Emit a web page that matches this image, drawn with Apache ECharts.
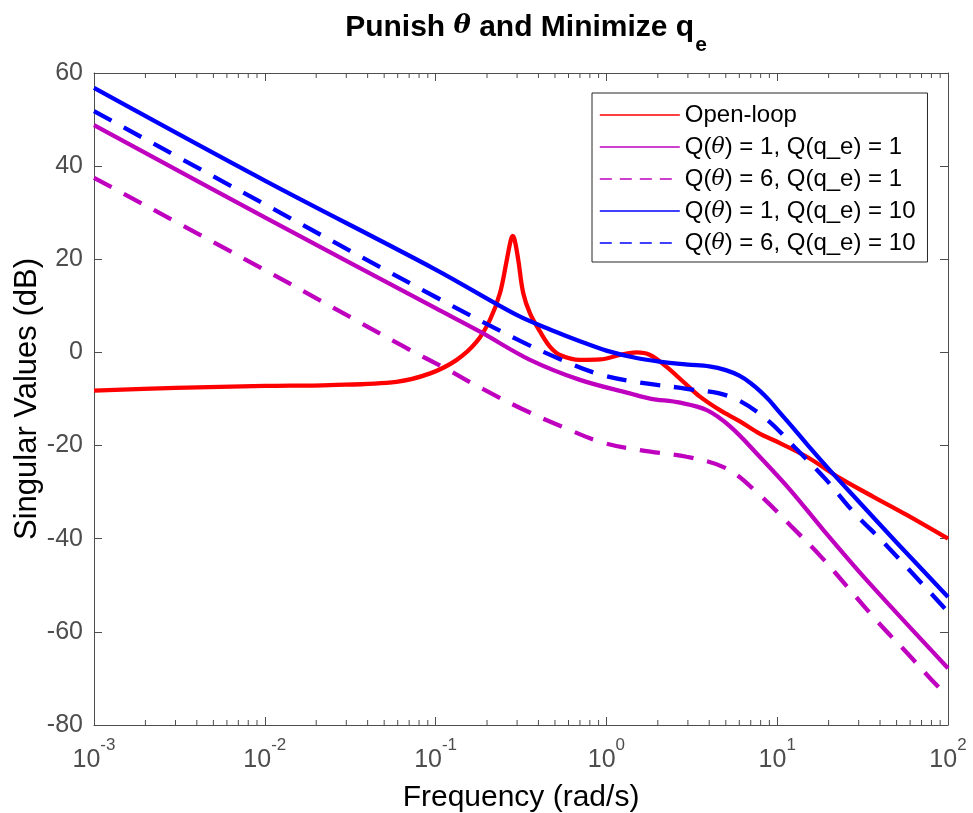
<!DOCTYPE html>
<html>
<head>
<meta charset="utf-8">
<script src="https://cdn.jsdelivr.net/npm/echarts@6/dist/echarts.min.js"></script>
<style>
html,body{margin:0;padding:0;background:#fff;}
#chart{width:973px;height:813px;}
</style>
</head>
<body>
<div id="chart"></div>
<script>
// ---- Data ----
const seriesNames = [
  'Open-loop',
  'Q(θ) = 1, Q(q_e) = 1',
  'Q(θ) = 6, Q(q_e) = 1',
  'Q(θ) = 1, Q(q_e) = 10',
  'Q(θ) = 6, Q(q_e) = 10'
];

const openLoopFreq = [0.001, 0.003, 0.01, 0.024, 0.059, 0.093, 0.133, 0.174, 0.208, 0.238, 0.261, 0.275, 0.283, 0.291, 0.305, 0.326, 0.357, 0.409, 0.468, 0.535, 0.70, 0.92, 1.2, 1.5, 1.8, 2.25, 2.82, 3.53, 4.62, 6.05, 7.94, 9.5, 14.9, 23.3, 36.6, 57.3, 100];
const openLoopDb   = [-8.2, -7.6, -7.2, -7.0, -6.3, -4.5, -1.6, 2.3, 7.0, 12.7, 19.8, 24.0, 25.0, 24.0, 19.8, 12.7, 8.4, 4.45, 1.2, -0.55, -1.6, -1.5, -0.55, 0.0, -0.55, -3.1, -6.3, -9.5, -12.4, -14.8, -17.5, -18.8, -22.4, -27.0, -31.0, -34.9, -40.0];

const q1q1Freq = [0.001, 0.01, 0.1, 0.182, 0.357, 0.70, 1.37, 1.8, 2.7, 3.87, 5.3, 7.9, 11.9, 18.6, 33.4, 100];
const q1q1Db   = [48.8, 29.0, 9.5, 4.45, -1.6, -5.9, -8.8, -9.9, -10.8, -12.4, -15.9, -22.4, -29.5, -38.1, -48.9, -67.8];

const q6q1Freq = [0.001, 0.01, 0.0678, 0.1135, 0.19, 0.319, 0.547, 0.94, 1.64, 2.95, 5.1, 8.0, 12.0, 18.2, 26.7, 39.1, 57.8, 87.7, 100];
const q6q1Db   = [37.5, 17.7, 0.9, -3.4, -7.9, -12.1, -15.9, -19.3, -21.1, -22.4, -25.0, -30.8, -37.2, -44.0, -51.0, -58.0, -64.6, -71.8, -73.5];

const q1q10Freq = [0.001, 0.01, 0.1, 0.3, 0.5, 0.7, 1, 1.5, 2, 3, 4, 5, 6, 7, 8, 9, 10, 12, 15, 20, 30, 50, 100];
const q1q10Db   = [56.8, 36.9, 17.8, 8.0, 4.5, 2.4, 0.4, -1.2, -1.9, -2.6, -3.0, -3.8, -5.0, -6.6, -8.4, -10.3, -12.3, -15.6, -19.8, -25.0, -32.0, -40.8, -52.5];

const q6q10Freq = [0.001, 0.01, 0.1, 0.3, 0.54, 0.93, 1.66, 2.95, 5.3, 8.5, 13, 19.2, 28.2, 42.2, 100];
const q6q10Db   = [51.8, 31.8, 11.9, 2.8, -1.5, -4.8, -6.6, -7.8, -9.5, -14.1, -20.8, -27.2, -34.4, -40.9, -55.7];

const decades = [-3, -2, -1, 0, 1, 2];

// ---- helpers ----
const zip = (f, v) => f.map((x, i) => [x, v[i]]);
const minorTickVals = [];
for (let d = decades[0]; d < decades[decades.length - 1]; d++) {
  for (let k = 2; k <= 9; k++) minorTickVals.push(k * Math.pow(10, d));
}

const axisColor = '#4d4d4d';
const RED = '#ff0000', MAG = '#bf00bf', BLUE = '#0000ff';
const FONT = '"Liberation Sans", Arial, Helvetica, sans-serif';

function lineSeries(name, data, color, dashed) {
  return {
    name, type: 'line', data, showSymbol: false, symbol: 'none',
    smooth: 0.35, xAxisIndex: 0, yAxisIndex: 0,
    lineStyle: { color, width: 4.3, type: dashed ? [20, 14] : 'solid', cap: 'butt' },
    itemStyle: { color },
    emphasis: { disabled: true }, animation: false, z: 3
  };
}

const chart = echarts.init(document.getElementById('chart'), null, { renderer: 'canvas', width: 973, height: 813 });

const option = {
  animation: false,
  backgroundColor: '#ffffff',
  textStyle: { fontFamily: FONT },
  title: {
    text: '{a|Punish }{i|θ}{a| and Minimize q}{e|e}',
    left: 521, top: 8, textAlign: 'center',
    textStyle: {
      rich: {
        a: { fontFamily: FONT, fontSize: 30, fontWeight: 'bold', color: '#000', lineHeight: 32, verticalAlign: 'top' },
        i: { fontFamily: '"DejaVu Serif", serif', fontSize: 26, fontStyle: 'italic', fontWeight: 'bold', color: '#000', lineHeight: 32, verticalAlign: 'top' },
        e: { fontFamily: FONT, fontSize: 21, fontWeight: 'bold', color: '#000', lineHeight: 21, padding: [22, 0, 0, 1], verticalAlign: 'top' }
      }
    }
  },
  legend: {
    orient: 'vertical', left: 592, top: 93,
    data: seriesNames.map((n, i) => ({
      name: n,
      lineStyle: { width: 1.6, type: (i === 2 || i === 4) ? [12, 8] : 'solid' }
    })),
    itemWidth: 80, itemHeight: 20, itemGap: 8,
    padding: [10, 12, 7, 7],
    itemStyle: { opacity: 0, borderWidth: 0 },
    backgroundColor: '#ffffff', borderColor: '#262626', borderWidth: 1,
    formatter: (n) => n.replace('θ', '}{t|θ}{n|').replace(/^/, '{n|') + '}',
    textStyle: {
      fontSize: 24, color: '#000',
      rich: {
        n: { fontFamily: FONT, fontSize: 24, color: '#000' },
        t: { fontFamily: '"DejaVu Serif", serif', fontSize: 22, fontStyle: 'italic', color: '#000' }
      }
    },
    selectedMode: false
  },
  grid: { left: 94, width: 854, top: 73, height: 652, containLabel: false, outerBoundsMode: 'none' },
  xAxis: [
    {
      type: 'log', logBase: 10, min: 0.001, max: 100, position: 'bottom',
      name: 'Frequency (rad/s)', nameLocation: 'middle', nameGap: 58, nameMoveOverlap: false,
      nameTextStyle: { fontSize: 30, color: '#000', fontFamily: FONT },
      axisLine: { show: true, onZero: false, lineStyle: { color: axisColor, width: 1 } },
      axisTick: { show: true, inside: true, length: 8, lineStyle: { color: axisColor } },
      splitLine: { show: false },
      axisLabel: {
        margin: 12,
        formatter: (v) => '{b|10}{s|' + Math.round(Math.log10(v)) + '}',
        rich: {
          b: { fontFamily: FONT, fontSize: 25, color: axisColor, lineHeight: 36, verticalAlign: 'bottom' },
          s: { fontFamily: FONT, fontSize: 17, color: axisColor, lineHeight: 17, verticalAlign: 'top' }
        }
      }
    },
    {
      type: 'log', logBase: 10, min: 0.001, max: 100, position: 'top',
      axisLine: { show: true, onZero: false, lineStyle: { color: axisColor, width: 1 } },
      axisTick: { show: true, inside: true, length: 8, lineStyle: { color: axisColor } },
      axisLabel: { show: false }, splitLine: { show: false }
    }
  ],
  yAxis: [
    {
      type: 'value', min: -80, max: 60, interval: 20, position: 'left',
      name: 'Singular Values (dB)', nameLocation: 'middle', nameGap: 51, nameRotate: 90, nameMoveOverlap: false,
      nameTextStyle: { fontSize: 31, color: '#000', fontFamily: FONT },
      axisLine: { show: true, onZero: false, lineStyle: { color: axisColor, width: 1 } },
      axisTick: { show: true, inside: true, length: 8, lineStyle: { color: axisColor } },
      splitLine: { show: false },
      axisLabel: { fontSize: 25, color: axisColor, margin: 11, fontFamily: FONT }
    },
    {
      type: 'value', min: -80, max: 60, interval: 20, position: 'right',
      axisLine: { show: true, onZero: false, lineStyle: { color: axisColor, width: 1 } },
      axisTick: { show: true, inside: true, length: 8, lineStyle: { color: axisColor } },
      axisLabel: { show: false }, splitLine: { show: false }
    }
  ],
  series: [
    lineSeries(seriesNames[0], zip(openLoopFreq, openLoopDb), RED, false),
    lineSeries(seriesNames[1], zip(q1q1Freq, q1q1Db), MAG, false),
    lineSeries(seriesNames[2], zip(q6q1Freq, q6q1Db), MAG, true),
    lineSeries(seriesNames[3], zip(q1q10Freq, q1q10Db), BLUE, false),
    lineSeries(seriesNames[4], zip(q6q10Freq, q6q10Db), BLUE, true),
    {
      name: 'minorTicks', type: 'custom', xAxisIndex: 0, yAxisIndex: 0,
      data: minorTickVals.map(v => [v, -80]),
      silent: true, clip: false, z: 1,
      renderItem: (params, api) => {
        const v = api.value(0);
        const b = api.coord([v, -80]);
        const t = api.coord([v, 60]);
        const st = { stroke: axisColor, lineWidth: 1 };
        return {
          type: 'group',
          children: [
            { type: 'line', shape: { x1: b[0], y1: b[1], x2: b[0], y2: b[1] - 5 }, style: st },
            { type: 'line', shape: { x1: t[0], y1: t[1], x2: t[0], y2: t[1] + 5 }, style: st }
          ]
        };
      }
    }
  ]
};
chart.setOption(option);
</script>
</body>
</html>
